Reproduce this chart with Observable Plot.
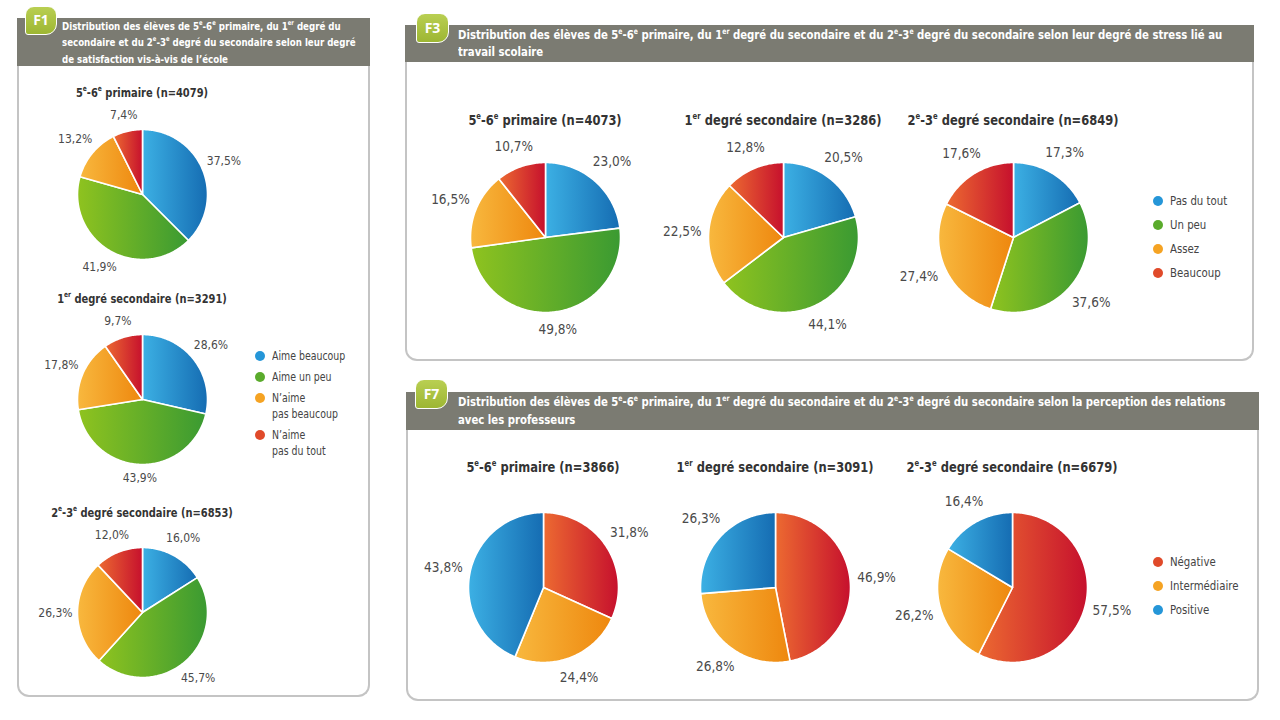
<!DOCTYPE html>
<html><head><meta charset="utf-8">
<script src="https://cdn.jsdelivr.net/npm/d3@7"></script>
<script src="https://cdn.jsdelivr.net/npm/@observablehq/plot@0.6"></script>
<style>
body{margin:0;background:#fff;}
#root{position:relative;width:1280px;height:720px;overflow:hidden;font-family:"Liberation Sans Narrow","DejaVu Sans Condensed",sans-serif;color:#3a3a3a;}
.box{position:absolute;box-sizing:border-box;border:2px solid #c4c4c4;border-top:none;border-radius:0 0 12px 12px;}
.hdr{position:absolute;background:#7b7b72;color:#fff;font-weight:bold;box-sizing:border-box;white-space:nowrap;}
.hdr .sq{display:inline-block;transform:scaleX(0.86);transform-origin:0 0;}
.badge{position:absolute;box-sizing:border-box;background:linear-gradient(#b9cf52,#9db633);color:#fff;font-weight:bold;font-size:14px;text-align:center;border:1.5px solid #fff;border-radius:9px 9px 11px 3px;font-family:"Open Sans","DejaVu Sans",sans-serif;}
.ttl{position:absolute;transform:translate(-50%,-50%) scaleX(0.88);white-space:nowrap;font-weight:bold;color:#333;}
sup{font-size:0.6em;vertical-align:super;line-height:0;}
.pie{position:absolute;}
.leg{position:absolute;color:#444;}
.leg .row{display:flex;align-items:flex-start;}
.leg .dot{display:inline-block;width:10px;height:10px;border-radius:50%;flex:none;}
.leg .lt{display:inline-block;transform:scaleX(0.87);transform-origin:0 0;white-space:nowrap;}
</style></head>
<body>
<svg width="0" height="0" style="position:absolute">
<defs>
<linearGradient id="gBlue" x1="0" x2="1" y1="0" y2="0"><stop offset="0" stop-color="#3cb0e4"/><stop offset="1" stop-color="#156cb2"/></linearGradient>
<linearGradient id="gGreen" x1="0" x2="1" y1="0" y2="0"><stop offset="0" stop-color="#8fc31f"/><stop offset="1" stop-color="#3a9a32"/></linearGradient>
<linearGradient id="gOrange" x1="0" x2="1" y1="0" y2="0"><stop offset="0" stop-color="#f8b83e"/><stop offset="1" stop-color="#ee870e"/></linearGradient>
<linearGradient id="gRed" x1="0" x2="1" y1="0" y2="0"><stop offset="0" stop-color="#ec6a31"/><stop offset="1" stop-color="#c6102d"/></linearGradient>
</defs></svg>
<div id="root"></div>
<script>
// ---------- DATA ----------
const f1Categories = ["Aime beaucoup", "Aime un peu", "N'aime pas beaucoup", "N'aime pas du tout"];
const f1LegendLabels = ["Aime beaucoup", "Aime un peu", "N’aime<br>pas beaucoup", "N’aime<br>pas du tout"];
const f1Titles = ["5<sup>e</sup>-6<sup>e</sup> primaire (n=4079)", "1<sup>er</sup> degré secondaire (n=3291)", "2<sup>e</sup>-3<sup>e</sup> degré secondaire (n=6853)"];
const f1Primaire = [37.5, 41.9, 13.2, 7.4];
const f1Sec1 = [28.6, 43.9, 17.8, 9.7];
const f1Sec23 = [16.0, 45.7, 26.3, 12.0];

const f3Categories = ["Pas du tout", "Un peu", "Assez", "Beaucoup"];
const f3Titles = ["5<sup>e</sup>-6<sup>e</sup> primaire (n=4073)", "1<sup>er</sup> degré secondaire (n=3286)", "2<sup>e</sup>-3<sup>e</sup> degré secondaire (n=6849)"];
const f3Primaire = [23.0, 49.8, 16.5, 10.7];
const f3Sec1 = [20.5, 44.1, 22.5, 12.8];
const f3Sec23 = [17.3, 37.6, 27.4, 17.6];

const f7Categories = ["Négative", "Intermédiaire", "Positive"];
const f7Titles = ["5<sup>e</sup>-6<sup>e</sup> primaire (n=3866)", "1<sup>er</sup> degré secondaire (n=3091)", "2<sup>e</sup>-3<sup>e</sup> degré secondaire (n=6679)"];
const f7Primaire = [31.8, 24.4, 43.8];
const f7Sec1 = [46.9, 26.8, 26.3];
const f7Sec23 = [57.5, 26.2, 16.4];

const headers = {
  F1: "Distribution des élèves de 5<sup>e</sup>-6<sup>e</sup> primaire, du 1<sup>er</sup> degré du<br>secondaire et du 2<sup>e</sup>-3<sup>e</sup> degré du secondaire selon leur degré<br>de satisfaction vis-à-vis de l’école",
  F3: "Distribution des élèves de 5<sup>e</sup>-6<sup>e</sup> primaire, du 1<sup>er</sup> degré du secondaire et du 2<sup>e</sup>-3<sup>e</sup> degré du secondaire selon leur degré de stress lié au<br>travail scolaire",
  F7: "Distribution des élèves de 5<sup>e</sup>-6<sup>e</sup> primaire, du 1<sup>er</sup> degré du secondaire et du 2<sup>e</sup>-3<sup>e</sup> degré du secondaire selon la perception des relations<br>avec les professeurs"
};

// ---------- STYLE ----------
const grad = {blue: "url(#gBlue)", green: "url(#gGreen)", orange: "url(#gOrange)", red: "url(#gRed)"};
const dotColor = {blue: "#2596d8", green: "#5aab2c", orange: "#f5a323", red: "#e04a2a"};
const f1Colors = ["blue", "green", "orange", "red"];
const f3Colors = ["blue", "green", "orange", "red"];
const f7Colors = ["red", "orange", "blue"];
const FONT = '"Liberation Sans Narrow","DejaVu Sans Condensed",sans-serif';

const root = document.getElementById("root");
function el(cls, css, html) {
  const d = document.createElement("div");
  d.className = cls;
  Object.assign(d.style, css);
  if (html != null) d.innerHTML = html;
  root.appendChild(d);
  return d;
}
const fmt = v => v.toFixed(1).replace(".", ",") + "%";

function piePlot(values, cats, colors, r, W, H, fontSize, hw, hh, gap) {
  const total = d3.sum(values);
  let acc = 0;
  const rows = [], labels = [];
  values.forEach((v, i) => {
    const a0 = acc / total * 2 * Math.PI;
    acc += v;
    const a1 = acc / total * 2 * Math.PI;
    rows.push({k: i, cat: cats[i], x: 0, y: 0});
    const n = Math.max(2, Math.ceil((a1 - a0) / (Math.PI / 180)));
    for (let j = 0; j <= n; j++) {
      const a = a0 + (a1 - a0) * j / n;
      rows.push({k: i, cat: cats[i], x: Math.sin(a), y: Math.cos(a)});
    }
    rows.push({k: i, cat: cats[i], x: 0, y: 0});
    const am = (a0 + a1) / 2;
    const s = Math.sin(am), c = Math.cos(am);
    const dist = 1 + (gap + hw * Math.abs(s) + hh * Math.abs(c)) / r;
    labels.push({x: s * dist, y: c * dist, text: fmt(v)});
  });
  return Plot.plot({
    width: W, height: H, margin: 0,
    x: {domain: [-W / 2 / r, W / 2 / r], axis: null},
    y: {domain: [-H / 2 / r, H / 2 / r], axis: null},
    color: {type: "ordinal", domain: cats, range: colors.map(c => grad[c])},
    style: {overflow: "visible", background: "transparent"},
    marks: [
      Plot.line(rows, {x: "x", y: "y", z: "k", fill: "cat", stroke: "white", strokeWidth: 1.6, strokeLinejoin: "round"}),
      Plot.text(labels, {x: "x", y: "y", text: "text", fontSize, fill: "#4a4a4a", fontFamily: FONT})
    ]
  });
}

function addPie(values, cats, colors, cx, cy, r, fontSize, hw, hh, gap) {
  const W = 2 * r + 110, H = 2 * r + 70;
  const d = el("pie", {left: (cx - W / 2) + "px", top: (cy - H / 2) + "px"});
  d.appendChild(piePlot(values, cats, colors, r, W, H, fontSize, hw, hh, gap));
}

function addLegend(labels, colors, left, top, fontSize, lineH, gapRow) {
  const d = el("leg", {left: left + "px", top: top + "px", fontSize: fontSize + "px", lineHeight: lineH + "px"});
  labels.forEach((t, i) => {
    const row = document.createElement("div");
    row.className = "row";
    row.style.marginBottom = gapRow + "px";
    row.innerHTML = `<span class="dot" style="background:${dotColor[colors[i]]};margin-top:${(lineH - 10) / 2}px;margin-right:7px"></span><span class="lt">${t}</span>`;
    d.appendChild(row);
  });
}

function addPanel(id, box, hdrH, hdrFont, hdrLH, textLeft, textTop, badge) {
  el("box", {left: box[0] + "px", top: box[1] + "px", width: (box[2] - box[0]) + "px", height: (box[3] - box[1]) + "px"});
  el("hdr", {left: box[0] + "px", top: box[1] + "px", width: (box[2] - box[0]) + "px", height: hdrH + "px",
    fontSize: hdrFont + "px", lineHeight: hdrLH + "px", paddingLeft: (textLeft - box[0]) + "px", paddingTop: textTop + "px"},
    `<span class="sq">${headers[id]}</span>`);
  el("badge", {left: badge[0] + "px", top: badge[1] + "px", width: badge[2] + "px", height: badge[3] + "px", lineHeight: (badge[3] - 3) + "px"}, id);
}

// ---------- PANELS ----------
addPanel("F1", [17, 18, 370, 697], 48, 11.2, 16.3, 62, 1, [25, 6, 32, 29]);
addPanel("F3", [405, 25, 1254, 361], 37, 13.1, 17, 458, 1, [416, 13, 33, 30]);
addPanel("F7", [406, 392, 1259, 701], 38, 13.1, 17.5, 458, 1, [415, 379, 33, 30]);

// F1
const f1Sets = [f1Primaire, f1Sec1, f1Sec23];
const f1Cy = [194, 399, 612];
const f1TitleY = [92, 298, 512];
f1Sets.forEach((vals, i) => {
  el("ttl", {left: "142px", top: f1TitleY[i] + "px", fontSize: "12.5px"}, f1Titles[i]);
  addPie(vals, f1Categories, f1Colors, 142, f1Cy[i], 65, 12, 15, 6, 7);
});
addLegend(f1LegendLabels, f1Colors, 255, 348, 12, 16, 5);

// F3
const f3Sets = [f3Primaire, f3Sec1, f3Sec23];
const f3Cx = [545, 783, 1013];
f3Sets.forEach((vals, i) => {
  el("ttl", {left: f3Cx[i] + "px", top: "120px", fontSize: "14.5px"}, f3Titles[i]);
  addPie(vals, f3Categories, f3Colors, f3Cx[i], 237, 75, 13.5, 17, 7, 9);
});
addLegend(f3Categories, f3Colors, 1153, 192, 13, 18, 6);

// F7
const f7Sets = [f7Primaire, f7Sec1, f7Sec23];
const f7Cx = [543, 775, 1012];
f7Sets.forEach((vals, i) => {
  el("ttl", {left: f7Cx[i] + "px", top: "467px", fontSize: "14.5px"}, f7Titles[i]);
  addPie(vals, f7Categories, f7Colors, f7Cx[i], 587, 75, 13.5, 17, 7, 9);
});
addLegend(f7Categories, f7Colors, 1153, 553, 13, 18, 6);
</script>
</body></html>
